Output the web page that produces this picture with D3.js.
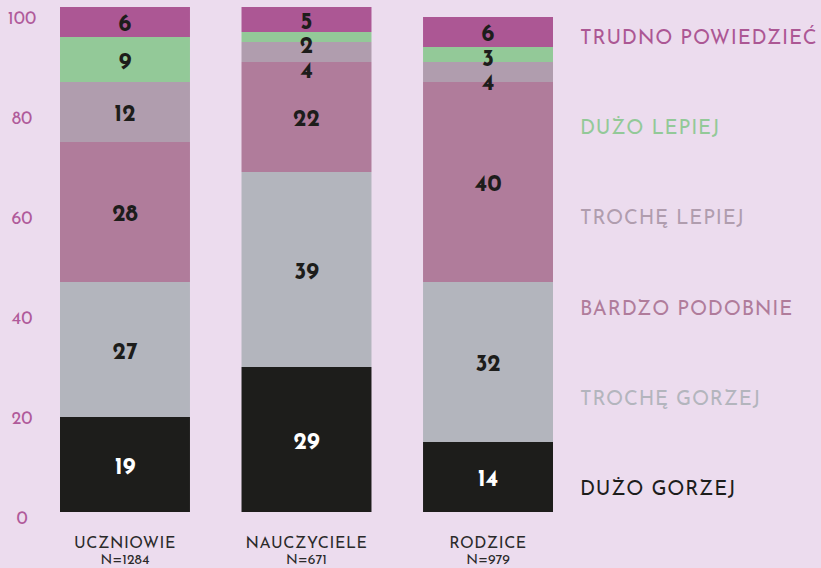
<!DOCTYPE html>
<html>
<head>
<meta charset="utf-8">
<script src="https://cdn.jsdelivr.net/npm/d3@7"></script>
<style>
  html, body { margin: 0; padding: 0; background: #ecdcee; }
  svg { display: block; font-family: "Josefin Sans", Lato, "Noto Sans", sans-serif; }
</style>
</head>
<body>
<svg width="821" height="568"></svg>
<script>
// categories and sample sizes
var groups = ['UCZNIOWIE', 'NAUCZYCIELE', 'RODZICE'];
var sizes = ['N=1284', 'N=671', 'N=979'];

// answer series, bottom to top
var answers = ['DUŻO GORZEJ', 'TROCHĘ GORZEJ', 'BARDZO PODOBNIE', 'TROCHĘ LEPIEJ', 'DUŻO LEPIEJ', 'TRUDNO POWIEDZIEĆ'];
var colors = ['#1d1d1b', '#b3b5bd', '#b07c9b', '#b09dae', '#93c998', '#ac5794'];

// percentages per group, same order as answers
var duzoGorzej = [19, 29, 14];
var trocheGorzej = [27, 39, 32];
var bardzoPodobnie = [28, 22, 40];
var trocheLepiej = [12, 4, 4];
var duzoLepiej = [9, 2, 3];
var trudno = [6, 5, 6];

var yTicks = [0, 20, 40, 60, 80, 100];

var series = [duzoGorzej, trocheGorzej, bardzoPodobnie, trocheLepiej, duzoLepiej, trudno];

var svg = d3.select('svg');

var x = d3.scaleBand()
    .domain(groups)
    .range([60, 553])
    .paddingInner(0.284)
    .paddingOuter(0);

var y = d3.scaleLinear()
    .domain([0, 100])
    .range([512, 12]);

// build stacked rows
var rows = groups.map(function(g, i) {
    var row = { group: g };
    answers.forEach(function(a, j) { row[a] = series[j][i]; });
    return row;
});
var stacked = d3.stack().keys(answers)(rows);

// y axis labels
svg.append('g')
    .selectAll('text')
    .data(yTicks)
    .enter()
    .append('text')
        .attr('x', 22)
        .attr('y', function(d) { return y(d) + 6; })
        .attr('dy', '0.35em')
        .attr('text-anchor', 'middle')
        .attr('fill', '#b05a9a')
        .attr('font-size', 18)
        .text(function(d) { return d; });

// bar segments
var layers = svg.append('g')
    .selectAll('g')
    .data(stacked)
    .enter()
    .append('g')
        .attr('fill', function(d, i) { return colors[i]; });

layers.selectAll('rect')
    .data(function(d) { return d; })
    .enter()
    .append('rect')
        .attr('x', function(d) { return x(d.data.group); })
        .attr('y', function(d) { return y(d[1]); })
        .attr('width', x.bandwidth())
        .attr('height', function(d) { return y(d[0]) - y(d[1]); });

// value labels, pushed apart from the top down when segments are thin
groups.forEach(function(g, gi) {
    var items = stacked.map(function(s, si) {
        var d = s[gi];
        return { value: d[1] - d[0], mid: (y(d[0]) + y(d[1])) / 2, idx: si };
    }).reverse();
    var prev = -Infinity;
    items.forEach(function(it) {
        it.pos = Math.max(it.mid, prev + 24.5);
        prev = it.pos;
    });
    svg.append('g')
        .selectAll('text')
        .data(items)
        .enter()
        .append('text')
            .attr('x', x(g) + x.bandwidth() / 2)
            .attr('y', function(d) { return d.pos + 1; })
            .attr('dy', '0.35em')
            .attr('text-anchor', 'middle')
            .attr('font-size', 23)
            .attr('font-weight', 'bold')
            .attr('fill', function(d) { return d.idx === 0 ? '#ffffff' : '#1d1d1b'; })
            .text(function(d) { return d.value; });
});

// category labels
var cat = svg.append('g')
    .selectAll('g')
    .data(groups)
    .enter()
    .append('g')
        .attr('transform', function(d) { return 'translate(' + (x(d) + x.bandwidth() / 2) + ',0)'; });

cat.append('text')
    .attr('y', 542)
    .attr('dy', '0.35em')
    .attr('text-anchor', 'middle')
    .attr('font-size', 16)
    .attr('letter-spacing', 0.6)
    .attr('fill', '#2a2a2a')
    .text(function(d) { return d; });

cat.append('text')
    .attr('y', 559)
    .attr('dy', '0.35em')
    .attr('text-anchor', 'middle')
    .attr('font-size', 14)
    .attr('fill', '#2a2a2a')
    .text(function(d, i) { return sizes[i]; });

// legend on the right, top entry first
svg.append('g')
    .selectAll('text')
    .data(answers.slice().reverse())
    .enter()
    .append('text')
        .attr('x', 580)
        .attr('y', function(d, i) { return 37 + i * 90.2; })
        .attr('dy', '0.35em')
        .attr('font-size', 20)
        .attr('letter-spacing', 0.8)
        .attr('fill', function(d, i) { return colors[answers.length - 1 - i]; })
        .text(function(d) { return d; });
</script>
</body>
</html>
